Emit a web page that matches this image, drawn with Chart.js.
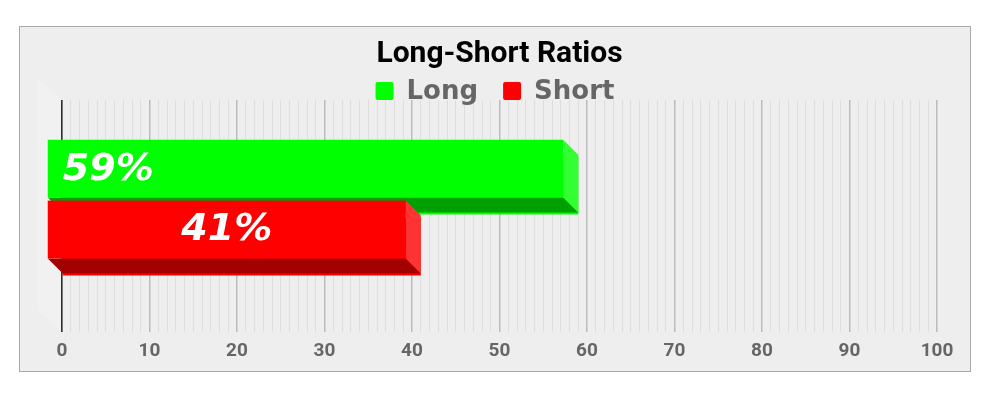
<!DOCTYPE html>
<html>
<head>
<meta charset="utf-8">
<script src="https://cdn.jsdelivr.net/npm/chart.js@4/dist/chart.umd.min.js"></script>
<style>
  html, body { margin: 0; padding: 0; background: #fff; }
  #panel {
    position: absolute; left: 19px; top: 26px;
    width: 950px; height: 344px;
    border: 1px solid #a8a8a8; background: #eeeeee;
  }
</style>
</head>
<body>
<div id="panel"><canvas id="ratioChart"></canvas></div>
<script>
// chart data
const categories = ["Ratio"];
const seriesNames = ["Long", "Short"];
const longValues = [59];
const shortValues = [41];
const axisMin = 0;
const axisMax = 100;
const majorStep = 10;

// face colours: front, side, bottom
const faceColors = [
    { front: "#00ff00", side: "#33ff33", bottom: "#00a000" },
    { front: "#ff0000", side: "#ff3333", bottom: "#a30000" }
];
const depth = 15;

// draws the 3d faces, the value labels and the legend
const bar3d = {
    id: "bar3d",
    beforeDatasetsDraw(chart) {
        // faint back wall at the left
        const ctx = chart.ctx, a = chart.chartArea;
        ctx.save();
        ctx.fillStyle = "rgba(255,255,255,0.18)";
        ctx.beginPath();
        ctx.moveTo(a.left - 24, a.top - 22);
        ctx.lineTo(a.left, a.top);
        ctx.lineTo(a.left, a.bottom);
        ctx.lineTo(a.left - 24, a.bottom - 22);
        ctx.closePath();
        ctx.fill();
        ctx.restore();
    },
    afterDatasetsDraw(chart) {
        const ctx = chart.ctx;
        ctx.save();
        chart.data.datasets.forEach((ds, i) => {
            const meta = chart.getDatasetMeta(i);
            const c = faceColors[i];
            meta.data.forEach((el, j) => {
                const p = el.getProps(["x", "y", "base", "height"], true);
                const left = Math.min(p.base, p.x), right = Math.max(p.base, p.x);
                const top = p.y - p.height / 2 - 2, bottom = p.y + p.height / 2 - 2;
                // bottom face
                ctx.fillStyle = c.bottom;
                ctx.beginPath();
                ctx.moveTo(left - depth, bottom - depth);
                ctx.lineTo(right - depth, bottom - depth);
                ctx.lineTo(right, bottom);
                ctx.lineTo(left, bottom);
                ctx.closePath();
                ctx.fill();
                // side face
                ctx.fillStyle = c.side;
                ctx.beginPath();
                ctx.moveTo(right - depth, top - depth);
                ctx.lineTo(right, top);
                ctx.lineTo(right, bottom);
                ctx.lineTo(right - depth, bottom - depth);
                ctx.closePath();
                ctx.fill();
                // front face
                ctx.fillStyle = c.front;
                ctx.fillRect(left - depth, top - depth, right - left, bottom - top);
                // label
                ctx.fillStyle = "#fff";
                ctx.font = "italic bold 38px 'DejaVu Sans'";
                ctx.textBaseline = "middle";
                const txt = ds.data[j] + "%";
                const cy = (top + bottom) / 2 - depth + 1;
                if (i === 0) {
                    ctx.textAlign = "left";
                    ctx.fillText(txt, left, cy);
                } else {
                    ctx.textAlign = "center";
                    ctx.fillText(txt, (left + right) / 2 - depth, cy);
                }
            });
        });
        ctx.restore();
    },
    afterDraw(chart) {
        // legend
        const ctx = chart.ctx;
        ctx.save();
        ctx.font = "bold 26px 'DejaVu Sans'";
        const box = 18, gapText = 13, gapItem = 25;
        const widths = seriesNames.map(n => ctx.measureText(n).width);
        let total = 0;
        widths.forEach((w, i) => { total += box + gapText + w + (i ? gapItem : 0); });
        let x = chart.width / 2 - total / 2;
        const yBase = 72;
        seriesNames.forEach((n, i) => {
            ctx.fillStyle = faceColors[i].front;
            ctx.beginPath();
            ctx.roundRect(x, yBase - 17, box, box, 2);
            ctx.fill();
            ctx.fillStyle = "#666";
            ctx.textAlign = "left";
            ctx.textBaseline = "alphabetic";
            ctx.fillText(n, x + box + gapText, yBase);
            x += box + gapText + widths[i] + gapItem;
        });
        ctx.restore();
    }
};

const ctx = document.getElementById("ratioChart").getContext("2d");
const ratioChart = new Chart(ctx, {
    type: "bar",
    data: {
        labels: categories,
        datasets: [
            { label: seriesNames[0], data: longValues, backgroundColor: faceColors[0].front },
            { label: seriesNames[1], data: shortValues, backgroundColor: faceColors[1].front }
        ]
    },
    options: {
        indexAxis: "y",
        responsive: true,
        maintainAspectRatio: false,
        animation: false,
        categoryPercentage: 0.524,
        barPercentage: 0.951,
        layout: { padding: { left: 42, right: 33, top: 0, bottom: 0 } },
        plugins: {
            legend: { display: false },
            tooltip: { enabled: false },
            title: {
                display: true,
                text: "Long-Short Ratios",
                color: "#000",
                font: { family: "Roboto", size: 30, weight: "bold" },
                padding: { top: 9, bottom: 28 }
            }
        },
        scales: {
            y: { display: false },
            x: {
                min: axisMin,
                max: axisMax,
                border: { display: false },
                grid: {
                    drawTicks: false,
                    color: c => c.tick.value === 0 ? "#000" : (c.tick.value % majorStep === 0 ? "#bbbbbb" : "#dddddd"),
                    lineWidth: c => c.tick.value % majorStep === 0 ? 1.5 : 1
                },
                ticks: {
                    stepSize: 1,
                    autoSkip: false,
                    maxRotation: 0,
                    minRotation: 0,
                    padding: 8,
                    color: "#666",
                    font: { family: "Roboto", size: 19, weight: "bold" },
                    callback: v => v % majorStep === 0 ? v : ""
                }
            }
        }
    },
    plugins: [bar3d]
});
</script>
</body>
</html>
